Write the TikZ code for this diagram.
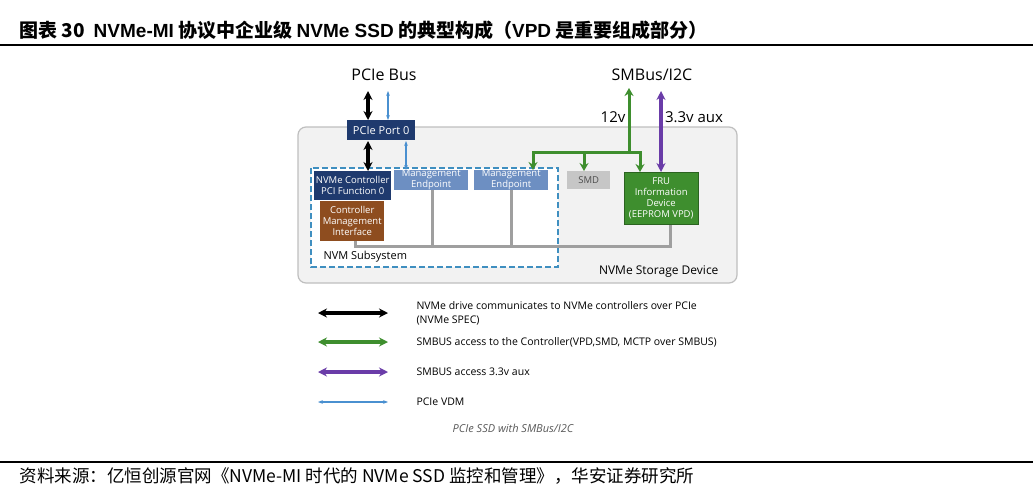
\documentclass[tikz,border=0pt]{standalone}
\usepackage{fontspec}
\setmainfont{Liberation Sans}
\newfontfamily\cjk{Noto Sans CJK SC}
\newfontfamily\osans{Open Sans}
\usetikzlibrary{arrows.meta}
\definecolor{navy}{HTML}{1F3A6E}
\definecolor{mep}{HTML}{6D8FC2}
\definecolor{brn}{HTML}{8E4D1F}
\definecolor{grn}{HTML}{3E8E2E}
\definecolor{pur}{HTML}{6A3CA8}
\definecolor{lb}{HTML}{4A90D0}
\definecolor{dsh}{HTML}{3F8FC0}
\begin{document}
\begin{tikzpicture}[x=1pt,y=-1pt,
 box/.style={draw=none,anchor=north west,inner sep=0pt,align=center,text=white,font=\osans\fontsize{9.5}{11}\selectfont},
 lbl/.style={font=\osans\fontsize{10.5}{14}\selectfont,anchor=west,align=left},
 dbl/.style={{Stealth[length=9pt,width=9pt]}-{Stealth[length=9pt,width=9pt]},line width=3.5pt},
 thin/.style={{Stealth[length=5pt]}-{Stealth[length=5pt]},line width=1.4pt,lb},
 bus/.style={line width=3pt,gray!75}]
\useasboundingbox (0,0) rectangle (1033,490);
\fill[white] (0,0) rectangle (1033,490);
\node[anchor=west,font=\cjk\bfseries\fontsize{19}{22}\selectfont] (title) at (16,30) {图表 30\ \ {\fontspec{Liberation Sans}\bfseries NVMe-MI} 协议中企业级 {\fontspec{Liberation Sans}\bfseries NVMe SSD} 的典型构成（{\fontspec{Liberation Sans}\bfseries VPD} 是重要组成部分）};
\draw[line width=1.2pt] (0,45) -- (1033,45);
\draw[line width=1.2pt] (0,462) -- (1033,462);
\node[anchor=west,font=\cjk\fontsize{17.5}{20}\selectfont] (src) at (16,476) {资料来源：亿恒创源官网《NVMe-MI 时代的 NVMe SSD 监控和管理》，华安证券研究所};
% device
\draw[gray!50,line width=1.2pt,fill=gray!10,rounded corners=8pt] (298,127) rectangle (737,283);
\node[font=\osans\fontsize{12}{14}\selectfont,anchor=east] (dev) at (722,272) {NVMe Storage Device};
\draw[dsh,dashed,dash pattern=on 6pt off 3pt,line width=2.2pt,fill=white] (311,168) rectangle (558,267);
\node[font=\osans\fontsize{11}{13}\selectfont,anchor=west] (sub) at (320,257) {NVM Subsystem};
\node[font=\osans\fontsize{16}{18}\selectfont] (pbus) at (384,75) {PCIe Bus};
\node[font=\osans\fontsize{16}{18}\selectfont] (smb) at (652,75) {SMBus/I2C};
\coordinate (bk) at (368,91); \coordinate (bl) at (388,91);
\coordinate (sm) at (629,88); \coordinate (sp) at (661,91);
% bus
\draw[bus] (355,240) -- (355,246) -- (670,246) -- (670,224);
\draw[bus] (432,189) -- (432,246); \draw[bus] (511,189) -- (511,246);
% boxes
\node[box,fill=navy,minimum width=68pt,minimum height=20pt,font=\osans\fontsize{11}{13}\selectfont] (port) at (347,120) {PCIe Port 0};
\node[box,fill=navy,minimum width=77pt,minimum height=29pt] (ctrl) at (314,171) {NVMe Controller\\PCI Function 0};
\node[box,fill=brn,minimum width=64pt,minimum height=40pt] (cmi) at (320,201) {Controller\\Management\\Interface};
\node[box,fill=mep,minimum width=74pt,minimum height=19pt] (me1) at (394,170) {Management\\Endpoint};
\node[box,fill=mep,minimum width=74pt,minimum height=19pt] (me2) at (474,170) {Management\\Endpoint};
\node[box,fill=gray!45,minimum width=43pt,minimum height=18pt,text=black!70] (smd) at (567,171) {SMD};
\node[box,fill=grn,draw=grn!70!black,minimum width=74pt,minimum height=52pt] (fru) at (624,172) {FRU\\Information\\Device\\(EEPROM VPD)};
% arrows
\draw[dbl,black] (bk) -- (368,120);
\draw[thin] (bl) -- (388,120);
\draw[dbl,black] (368,141) -- (368,171);
\draw[thin] (406,141) -- (406,170);
\draw[line width=3pt,grn,-{Stealth[length=8pt,width=9pt]}] (629,152) -- (sm);
\draw[line width=3pt,grn,-{Stealth[length=8pt,width=9pt]}] (629,152) -- (533,152) -- (533,170);
\draw[line width=3pt,grn,-{Stealth[length=8pt,width=9pt]}] (584,152) -- (584,171);
\draw[line width=3pt,grn,-{Stealth[length=8pt,width=9pt]}] (629,152) -- (640,152) -- (640,172);
\draw[dbl,pur] (sp) -- (661,172);
\node[font=\osans\fontsize{15}{17}\selectfont] (v12) at (613,117) {12v};
\node[font=\osans\fontsize{15}{17}\selectfont] (v33) at (694,117) {3.3v aux};
% legend
\foreach \y/\c/\n in {313/black/l1,342/grn/l2,372/pur/l3}{
 \coordinate (\n a) at (318,\y); \coordinate (\n b) at (388,\y);
 \draw[dbl,\c] (\n a) -- (\n b);}
\coordinate (l4a) at (318,402); \coordinate (l4b) at (388,402);
\draw[thin] (l4a) -- (l4b);
\node[lbl] (t1) at (413,313) {NVMe drive communicates to NVMe controllers over PCIe\\(NVMe SPEC)};
\node[lbl] (t2) at (413,342) {SMBUS access to the Controller(VPD,SMD, MCTP over SMBUS)};
\node[lbl] (t3) at (413,372) {SMBUS access 3.3v aux};
\node[lbl] (t4) at (413,402) {PCIe VDM};
\node[font=\osans\itshape\fontsize{11}{13}\selectfont,text=gray!70!black] (cap) at (513,428) {PCIe SSD with SMBus/I2C};
\end{tikzpicture}
\end{document}
